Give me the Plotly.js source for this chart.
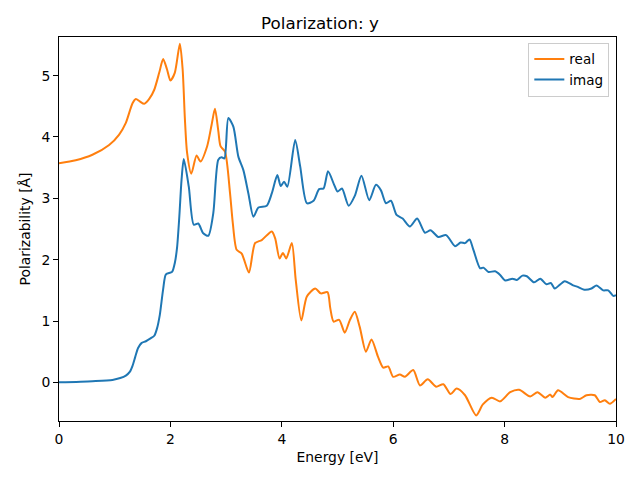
<!DOCTYPE html>
<html>
<head>
<meta charset="utf-8">
<script src="https://cdn.plot.ly/plotly-3.0.1.min.js"></script>
<style>html,body{margin:0;padding:0;background:#fff;}#chart{width:640px;height:480px;}</style>
</head>
<body>
<div id="chart"></div>
<script>
// Real part
var energyReal = [0, 0.3, 0.6, 0.9, 1.08, 1.2, 1.32, 1.38, 1.45, 1.53, 1.62, 1.71, 1.8, 1.87, 1.94, 2.0, 2.08, 2.17, 2.22, 2.26, 2.30, 2.375, 2.47, 2.54, 2.66, 2.74, 2.80, 2.86, 2.90, 2.98, 3.07, 3.12, 3.19, 3.28, 3.41, 3.52, 3.64, 3.82, 3.88, 3.96, 4.02, 4.08, 4.18, 4.25, 4.35, 4.45, 4.6, 4.7, 4.82, 4.87, 4.93, 5.03, 5.13, 5.22, 5.31, 5.40, 5.51, 5.61, 5.73, 5.82, 5.91, 6.0, 6.12, 6.21, 6.36, 6.48, 6.62, 6.77, 6.90, 7.03, 7.14, 7.29, 7.49, 7.61, 7.77, 7.92, 8.1, 8.26, 8.46, 8.59, 8.73, 8.82, 8.86, 8.96, 9.14, 9.35, 9.47, 9.62, 9.71, 9.80, 9.89, 10];
var realValues = [3.57, 3.62, 3.71, 3.87, 4.04, 4.23, 4.55, 4.62, 4.58, 4.54, 4.62, 4.77, 5.05, 5.27, 5.1, 4.92, 5.05, 5.52, 5.1, 4.3, 3.74, 3.40, 3.70, 3.60, 3.85, 4.2, 4.46, 4.1, 3.85, 3.76, 3.09, 2.6, 2.16, 2.1, 1.79, 2.27, 2.32, 2.46, 2.35, 2.02, 2.11, 2.02, 2.27, 1.67, 1.01, 1.4, 1.53, 1.45, 1.47, 1.21, 0.99, 1.02, 0.81, 1.01, 1.15, 0.90, 0.50, 0.70, 0.41, 0.24, 0.26, 0.09, 0.13, 0.09, 0.20, -0.05, 0.05, -0.07, -0.03, -0.19, -0.10, -0.21, -0.54, -0.36, -0.25, -0.31, -0.16, -0.12, -0.23, -0.16, -0.25, -0.20, -0.24, -0.13, -0.24, -0.27, -0.21, -0.21, -0.32, -0.29, -0.35, -0.27];

// Imaginary part
var energyImag = [0, 0.6, 0.96, 1.1, 1.2, 1.27, 1.32, 1.37, 1.42, 1.48, 1.56, 1.65, 1.71, 1.76, 1.81, 1.87, 1.92, 2.03, 2.08, 2.12, 2.16, 2.2, 2.24, 2.33, 2.42, 2.50, 2.59, 2.68, 2.77, 2.86, 2.92, 2.97, 3.04, 3.13, 3.22, 3.31, 3.40, 3.49, 3.58, 3.73, 3.82, 3.92, 3.98, 4.04, 4.10, 4.24, 4.33, 4.45, 4.57, 4.67, 4.75, 4.83, 4.94, 5.0, 5.08, 5.2, 5.31, 5.43, 5.57, 5.69, 5.78, 5.87, 5.96, 6.06, 6.17, 6.30, 6.43, 6.57, 6.67, 6.81, 6.95, 7.11, 7.21, 7.29, 7.37, 7.44, 7.56, 7.62, 7.71, 7.83, 7.92, 8.01, 8.14, 8.22, 8.32, 8.40, 8.53, 8.64, 8.75, 8.83, 8.90, 9.08, 9.23, 9.30, 9.43, 9.56, 9.65, 9.77, 9.86, 9.95, 10];
var imagValues = [0.0, 0.02, 0.04, 0.07, 0.11, 0.17, 0.27, 0.42, 0.56, 0.64, 0.67, 0.72, 0.76, 0.88, 1.1, 1.52, 1.76, 1.80, 1.95, 2.2, 2.7, 3.3, 3.64, 3.19, 2.57, 2.59, 2.43, 2.39, 2.76, 3.63, 3.67, 3.65, 4.31, 4.17, 3.68, 3.46, 3.08, 2.70, 2.85, 2.88, 3.08, 3.38, 3.20, 3.27, 3.19, 3.95, 3.52, 2.92, 2.96, 3.15, 3.16, 3.44, 3.22, 3.11, 3.16, 2.88, 3.04, 3.37, 2.97, 3.22, 3.13, 2.92, 2.96, 2.73, 2.67, 2.54, 2.67, 2.44, 2.48, 2.37, 2.40, 2.22, 2.28, 2.27, 2.33, 2.16, 1.86, 1.87, 1.80, 1.81, 1.75, 1.66, 1.69, 1.67, 1.74, 1.73, 1.63, 1.69, 1.60, 1.62, 1.53, 1.65, 1.58, 1.56, 1.51, 1.53, 1.58, 1.50, 1.50, 1.41, 1.42];

var xTicks = [0, 2, 4, 6, 8, 10];
var yTicks = [0, 1, 2, 3, 4, 5];

var font = {family: 'DejaVu Sans', size: 13.9, color: '#000'};

var traces = [
  {x: energyReal, y: realValues, name: 'real', mode: 'lines',
   line: {color: '#ff7f0e', width: 2, shape: 'spline', smoothing: 0.7}},
  {x: energyImag, y: imagValues, name: 'imag', mode: 'lines',
   line: {color: '#1f77b4', width: 2, shape: 'spline', smoothing: 0.7}}
];

var axisCommon = {
  showline: true, linecolor: '#000', linewidth: 1, mirror: true,
  ticks: 'outside', ticklen: 5, tickwidth: 1, tickcolor: '#000',
  showgrid: false, zeroline: false, tickfont: font
};

var layout = {
  width: 640, height: 480,
  margin: {l: 59, r: 24, t: 37, b: 59},
  paper_bgcolor: '#fff', plot_bgcolor: '#fff',
  font: font,
  title: {text: 'Polarization: y', font: {family: 'DejaVu Sans', size: 16.7, color: '#000'},
          x: 0.5, xanchor: 'center', y: 0.951, yanchor: 'middle'},
  xaxis: Object.assign({}, axisCommon, {
    range: [0, 10], tickvals: xTicks, ticktext: xTicks.map(String),
    title: {text: 'Energy [eV]', font: font, standoff: 6}
  }),
  yaxis: Object.assign({}, axisCommon, {
    range: [-0.63, 5.63], tickvals: yTicks, ticktext: yTicks.map(String),
    title: {text: 'Polarizability [Å]', font: font, standoff: 7}
  }),
  showlegend: true,
  legend: {x: 0.988, y: 0.985, xanchor: 'right', yanchor: 'top',
           bgcolor: 'rgba(255,255,255,0.8)', bordercolor: '#cccccc', borderwidth: 1,
           font: {family: 'DejaVu Sans', size: 13.5, color: '#000'}, tracegroupgap: 0, itemwidth: 30}
};

Plotly.newPlot('chart', traces, layout, {displayModeBar: false, staticPlot: true});
</script>
</body>
</html>
